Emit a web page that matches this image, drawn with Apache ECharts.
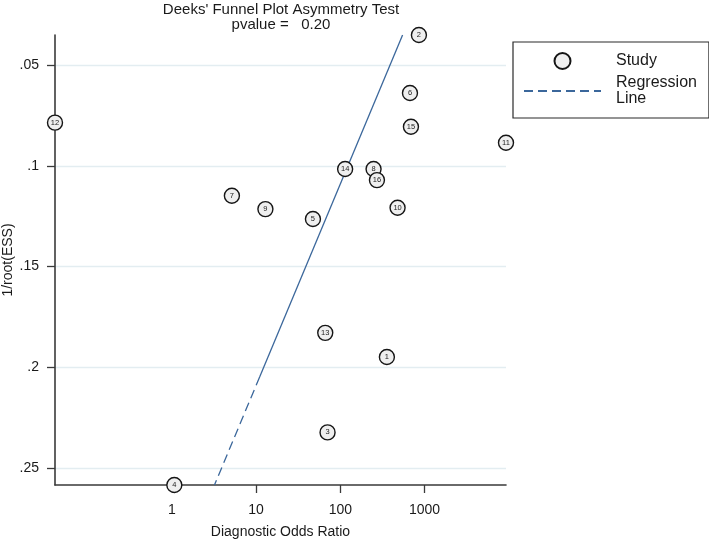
<!DOCTYPE html>
<html><head><meta charset="utf-8">
<script src="https://cdn.jsdelivr.net/npm/echarts@6/dist/echarts.min.js"></script>
<style>html,body{margin:0;padding:0;background:#fff}#c{width:709px;height:540px}</style>
</head><body><div id="c"></div>
<script>
// ---- data ----
const studyIds   = [1, 2, 3, 4, 5, 6, 7, 8, 9, 10, 11, 12, 13, 14, 15, 16];
const dor        = [357, 857, 70.5, 1.07, 47.3, 671, 5.16, 248, 12.9, 478, 9260, 0.041, 66.2, 114, 689, 272];
const invRootESS = [0.1949, 0.0351, 0.2323, 0.2584, 0.1264, 0.0639, 0.1149, 0.1016, 0.1215, 0.1208, 0.0886, 0.0786, 0.1829, 0.1016, 0.0806, 0.1071];
// regression: log10(DOR) = regIntercept + regSlope * 1/root(ESS)
const regIntercept = 3.09;
const regSlope = -10.0;
const regSolidEnd = 0.2048;
const xTickValues = [1, 10, 100, 1000];
const xTickLabels = ['1', '10', '100', '1000'];
const yTickValues = [0.05, 0.1, 0.15, 0.2, 0.25];
const yTickLabels = ['.05', '.1', '.15', '.2', '.25'];
const titleText = "Deeks' Funnel Plot Asymmetry Test";
const subText = 'pvalue =   0.20';
const xName = 'Diagnostic Odds Ratio';
const yName = '1/root(ESS)';
const studyName = 'Study';
const regName = 'Regression\nLine';

// ---- build ----
const FONT = 'Liberation Sans, Arial, Helvetica, sans-serif';
const TXT = '#1a1a1a';
const logDor = dor.map(v => Math.log10(v));
const xMin = Math.min(...logDor), xMax = Math.max(...logDor);
const yMin = Math.min(...invRootESS), yMax = Math.max(...invRootESS);
const pts = studyIds.map((id, i) => [logDor[i], invRootESS[i], id]);
const regX = y => regIntercept + regSlope * y;
const solidSeg = [[regX(yMin), yMin], [regX(regSolidEnd), regSolidEnd]];
const dashSeg = [[regX(regSolidEnd), regSolidEnd], [regX(yMax), yMax]];
const xTickLog = xTickValues.map(v => Math.log10(v));

function labelFor(vals, labs, v) {
  for (let i = 0; i < vals.length; i++) if (Math.abs(vals[i] - v) < 1e-6) return labs[i];
  return '';
}

const chart = echarts.init(document.getElementById('c'), null, {renderer: 'canvas'});
chart.setOption({
  animation: false,
  backgroundColor: '#fff',
  textStyle: {fontFamily: FONT},
  title: {
    text: titleText, subtext: subText,
    left: 281, top: 1.5, textAlign: 'center', itemGap: 0, padding: 0,
    textStyle: {fontSize: 15, fontWeight: 'normal', color: TXT, fontFamily: FONT, lineHeight: 16},
    subtextStyle: {fontSize: 15, color: TXT, fontFamily: FONT, lineHeight: 14}
  },
  legend: {
    orient: 'vertical', left: 513, top: 42,
    data: [{name: studyName, icon: 'circle'}, {name: regName, itemStyle: {opacity: 0}}],
    itemWidth: 77, itemHeight: 16, itemGap: 5,
    padding: [10, 12, 11, 10],
    borderColor: '#2a2a2a', borderWidth: 1.2,
    selectedMode: false,
    textStyle: {fontSize: 16, color: TXT, fontFamily: FONT, lineHeight: 16, padding: [0, 0, 0, 10]}
  },
  grid: {left: 55, right: 203, top: 35, bottom: 55, containLabel: false, outerBoundsMode: 'none'},
  xAxis: {
    type: 'value', min: xMin, max: xMax,
    name: xName, nameLocation: 'middle', nameGap: 40, nameMoveOverlap: false,
    nameTextStyle: {fontSize: 14, color: TXT, fontFamily: FONT},
    axisLine: {show: true, onZero: false, lineStyle: {color: '#3a3a3a', width: 1.6}},
    axisTick: {show: true, length: 8, customValues: xTickLog, lineStyle: {color: '#3a3a3a', width: 1.3}},
    axisLabel: {customValues: xTickLog, margin: 18, fontSize: 14, color: TXT, fontFamily: FONT,
      formatter: v => labelFor(xTickLog, xTickLabels, v)},
    splitLine: {show: false}
  },
  yAxis: {
    type: 'value', inverse: true, min: yMin, max: yMax,
    name: yName, nameLocation: 'middle', nameGap: 40, nameRotate: 90, nameMoveOverlap: false,
    nameTextStyle: {fontSize: 14, color: TXT, fontFamily: FONT},
    axisLine: {show: true, onZero: false, lineStyle: {color: '#3a3a3a', width: 1.6}},
    axisTick: {show: true, length: 8, customValues: yTickValues, lineStyle: {color: '#3a3a3a', width: 1.3}},
    axisLabel: {customValues: yTickValues, margin: 16, fontSize: 14, color: TXT, fontFamily: FONT,
      formatter: v => labelFor(yTickValues, yTickLabels, v)},
    splitLine: {show: false}
  },
  series: [
    {
      type: 'line', name: '__grid', data: [], silent: true, z: 0,
      markLine: {
        silent: true, symbol: ['none', 'none'], z: 0, animation: false,
        label: {show: false},
        lineStyle: {color: '#e3edf1', width: 1.4, type: 'solid'},
        data: yTickValues.map(v => ({yAxis: v}))
      }
    },
    {
      type: 'line', name: '__regsolid', data: solidSeg, symbol: 'none', z: 3, silent: true,
      lineStyle: {color: '#3b679b', width: 1.3, type: 'solid'}
    },
    {
      type: 'line', name: regName, data: dashSeg, symbol: 'none', z: 3, silent: true,
      lineStyle: {color: '#3b679b', width: 1.3, type: [9, 5]}
    },
    {
      type: 'scatter', name: studyName, data: pts, symbol: 'circle', symbolSize: 15, z: 5,
      itemStyle: {color: '#efefef', borderColor: '#151515', borderWidth: 1.4, opacity: 1},
      label: {show: true, position: 'inside', formatter: p => String(p.value[2]),
        fontSize: 7.5, color: '#222', fontFamily: FONT}
    }
  ]
});
</script></body></html>
